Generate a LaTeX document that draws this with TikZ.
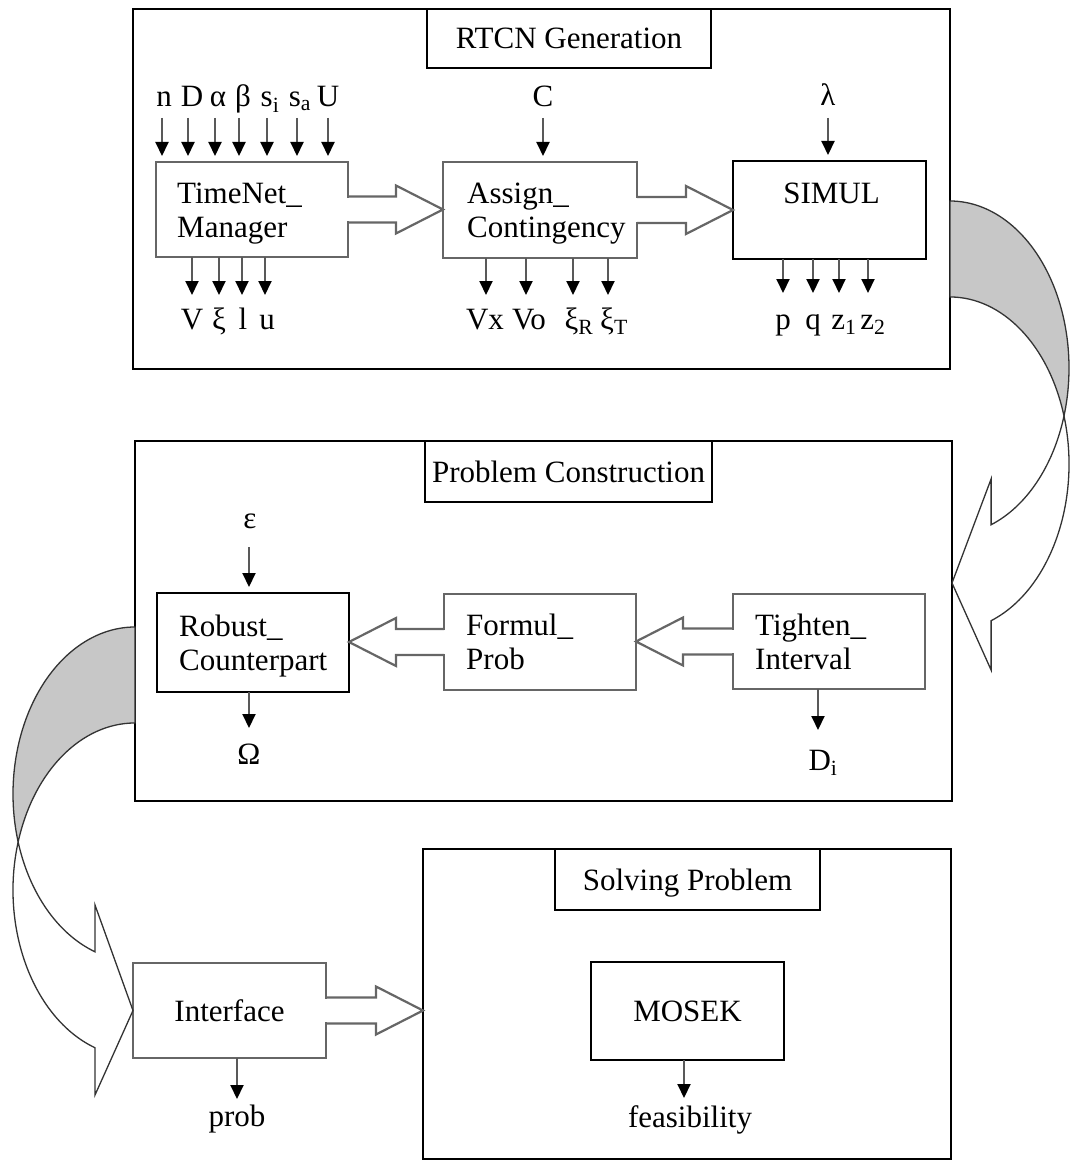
\documentclass[tikz,border=0pt]{standalone}
\usepackage{fontspec}
\setmainfont{Liberation Serif}
\usetikzlibrary{arrows.meta,calc}
\newcommand\fatR[2]{%
  \fill[white] ($(#1.east)+(-1.8,-11.9)$) rectangle ($(#1.east)+(1.8,11.9)$);
  \draw[fatline] ($(#1.east)+(0,-13)$) -- ($(#2.west |- #1.east)+(-47,-13)$)
     -- ($(#2.west |- #1.east)+(-47,-24)$) -- (#2.west |- #1.east)
     -- ($(#2.west |- #1.east)+(-47,24)$) -- ($(#2.west |- #1.east)+(-47,13)$)
     -- ($(#1.east)+(0,13)$);}
\newcommand\fatL[2]{%
  \fill[white] ($(#1.west)+(-1.8,-11.9)$) rectangle ($(#1.west)+(1.8,11.9)$);
  \draw[fatline] ($(#1.west)+(0,-13)$) -- ($(#2.east |- #1.west)+(47,-13)$)
     -- ($(#2.east |- #1.west)+(47,-24)$) -- (#2.east |- #1.west)
     -- ($(#2.east |- #1.west)+(47,24)$) -- ($(#2.east |- #1.west)+(47,13)$)
     -- ($(#1.west)+(0,13)$);}
% input arrow: label, box, dx, start offset below baseline
\newcommand\inarr[4]{\draw[sarr] ($(#1.base)+(#3,#4)$) -- ($(#1.base |- #2.north)+(#3,-6)$);}
% output arrow: label, box, dx, length
\newcommand\outarr[4]{\draw[sarr] ($(#1.base |- #2.south)+(#3,0)$) -- ++(0,#4);}
\begin{document}
\begin{tikzpicture}[x=1pt,y=-1pt,
  every node/.append style={font=\fontsize{31}{34}\selectfont},
  obox/.style={draw=black, line width=1.4pt, inner sep=0pt, outer sep=0pt},
  tbox/.style={draw=black, line width=1.4pt, fill=white, inner sep=0pt, outer sep=0pt, text height=21pt, text depth=0pt},
  kbox/.style={draw=black, line width=1.4pt, inner sep=0pt, outer sep=0pt},
  gbox/.style={draw=black!60, line width=2.2pt, inner sep=0pt, outer sep=0pt},
  fatline/.style={draw=black!60, line width=2.2pt, line join=miter},
  sarr/.style={draw=black!65, line width=2pt, -{Triangle[width=13pt,length=14pt,color=black]}},
  lbl/.style={inner sep=0pt},
  cband/.style={draw=black!80, line width=1.3pt, fill=black!22},
  fband/.style={draw=black!80, line width=1.3pt, fill=white}]
\useasboundingbox (0,0) rectangle (1070,1161);

% outer frames
\node[obox, anchor=north west, minimum width=817pt, minimum height=360pt] (b1) at (133,9) {};
\node[obox, anchor=north west, minimum width=817pt, minimum height=360pt] (b2) at (135,441) {};
\node[obox, anchor=north west, minimum width=528pt, minimum height=310pt] (b3) at (423,849) {};
\node[tbox, anchor=north west, minimum width=284pt, minimum height=59pt] (t1) at (427,9) {RTCN Generation};
\node[tbox, anchor=north west, minimum width=287pt, minimum height=61pt] (t2) at (425,441) {Problem Construction};
\node[tbox, anchor=north west, minimum width=265pt, minimum height=61pt] (t3) at (555,849) {Solving Problem};

% inner boxes
\node[gbox, anchor=north west, minimum width=192pt, minimum height=95pt] (tnm) at (156,162) {};
\node[gbox, anchor=north west, minimum width=194pt, minimum height=96pt] (asg) at (443,162) {};
\node[kbox, anchor=north west, minimum width=193pt, minimum height=98pt] (sim) at (733,161) {};
\node[kbox, anchor=north west, minimum width=192pt, minimum height=99pt] (rob) at (157,593) {};
\node[gbox, anchor=north west, minimum width=192pt, minimum height=96pt] (frm) at (444,594) {};
\node[gbox, anchor=north west, minimum width=192pt, minimum height=95pt] (tig) at (733,594) {};
\node[gbox, anchor=north west, minimum width=193pt, minimum height=95pt] (intf) at (133,963) {Interface};
\node[kbox, anchor=north west, minimum width=193pt, minimum height=98pt] (mos) at (591,962) {MOSEK};

% box texts
\node[lbl, anchor=west, align=left] (tnmT) at ($(tnm.west)+(21,4)$) {TimeNet\_\strut\\Manager\strut};
\node[lbl, anchor=west, align=left] (asgT) at ($(asg.west)+(24,4)$) {Assign\_\strut\\Contingency\strut};
\node[lbl] (simT) at ($(sim.center)+(2,-17)$) {SIMUL};
\node[lbl, anchor=west, align=left] (robT) at ($(rob.west)+(22,4)$) {Robust\_\strut\\Counterpart\strut};
\node[lbl, anchor=west, align=left] (frmT) at ($(frm.west)+(22,4)$) {Formul\_\strut\\Prob\strut};
\node[lbl, anchor=west, align=left] (tigT) at ($(tig.west)+(22,4)$) {Tighten\_\strut\\Interval\strut};

% fat block arrows
\fatR{tnm}{asg}
\fatR{asg}{sim}
\fatL{tig}{frm}
\fatL{frm}{rob}
\fatR{intf}{b3}

% inputs
\node[lbl, anchor=base] (in1) at (164,107) {n};
\node[lbl, anchor=base] (in2) at (192,107) {D};
\node[lbl, anchor=base] (in3) at (218,107) {α};
\node[lbl, anchor=base] (in4) at (243,107) {β};
\node[lbl, anchor=base] (in5) at (270,107) {s\textsubscript{i}};
\node[lbl, anchor=base] (in6) at (300,107) {s\textsubscript{a}};
\node[lbl, anchor=base] (in7) at (328,107) {U};
\inarr{in1}{tnm}{-2}{11}
\inarr{in2}{tnm}{-4}{11}
\inarr{in3}{tnm}{-3}{11}
\inarr{in4}{tnm}{-4}{11}
\inarr{in5}{tnm}{-3}{11}
\inarr{in6}{tnm}{-3}{11}
\inarr{in7}{tnm}{0}{11}
\node[lbl, anchor=base] (inC) at (543,107) {C};
\inarr{inC}{asg}{0}{11}
\node[lbl, anchor=base] (inL) at (828,106) {λ};
\inarr{inL}{sim}{0}{12}
\node[lbl, anchor=base] (inE) at (250,528) {ε};
\inarr{inE}{rob}{-1}{19}

% outputs
\node[lbl, anchor=base] (oV) at (192,329) {V};
\node[lbl, anchor=base] (oXi) at (219,329) {ξ};
\node[lbl, anchor=base] (oLo) at (243,329) {l};
\node[lbl, anchor=base] (oUp) at (267,329) {u};
\outarr{oV}{tnm}{0}{38}
\outarr{oXi}{tnm}{0}{38}
\outarr{oLo}{tnm}{-1}{38}
\outarr{oUp}{tnm}{-2}{38}
\node[lbl, anchor=base] (oVx) at (485,329) {Vx};
\node[lbl, anchor=base] (oVo) at (529,329) {Vo};
\node[lbl, anchor=base] (oXR) at (579,329) {ξ\textsubscript{R}};
\node[lbl, anchor=base] (oXT) at (614,329) {ξ\textsubscript{T}};
\outarr{oVx}{asg}{1}{37}
\outarr{oVo}{asg}{-3}{37}
\outarr{oXR}{asg}{-6}{37}
\outarr{oXT}{asg}{-6}{37}
\node[lbl, anchor=base] (op) at (783,329) {p};
\node[lbl, anchor=base] (oq) at (813,329) {q};
\node[lbl, anchor=base] (oz1) at (844,329) {z\textsubscript{1}};
\node[lbl, anchor=base] (oz2) at (873,329) {z\textsubscript{2}};
\outarr{op}{sim}{0}{34}
\outarr{oq}{sim}{0}{34}
\outarr{oz1}{sim}{-5}{34}
\outarr{oz2}{sim}{-5}{34}
\node[lbl, anchor=base] (oOm) at (249,764) {Ω};
\outarr{oOm}{rob}{0}{36}
\node[lbl, anchor=base] (oD) at (823,770) {D\textsubscript{i}};
\outarr{oD}{tig}{-5}{41}
\node[lbl, anchor=base] (oprob) at (237,1126) {prob};
\outarr{oprob}{intf}{0}{41}
\node[lbl, anchor=base] (ofeas) at (690,1127) {feasibility};
\outarr{ofeas}{mos}{-6}{38}

% curved arrow: RTCN -> Problem Construction
\filldraw[cband] ($(b1.north east)+(0,192)$)
  arc[start angle=90, end angle=-16.7, x radius=119pt, y radius=167pt]
  arc[start angle=16.7, end angle=90, x radius=119pt, y radius=167pt] -- cycle;
\filldraw[fband] (1063.98,415.99)
  arc[start angle=16.7, end angle=-69.8, x radius=119pt, y radius=167pt]
  -- (991.09,670) -- (b2.east |- 0,583) -- (991.09,479) -- (991.09,524.73)
  arc[start angle=-69.8, end angle=-16.7, x radius=119pt, y radius=167pt] -- cycle;

% curved arrow: Problem Construction -> Interface
\filldraw[cband] ($(b2.north west)+(0,186)$)
  arc[start angle=90, end angle=196.7, x radius=122pt, y radius=167pt]
  arc[start angle=163.3, end angle=90, x radius=122pt, y radius=167pt] -- cycle;
\filldraw[fband] (18.15,841.99)
  arc[start angle=163.3, end angle=250.86, x radius=122pt, y radius=167pt]
  -- (95.0,1095) -- (intf.west) -- (95.0,905) -- (95.0,951.77)
  arc[start angle=250.86, end angle=196.7, x radius=122pt, y radius=167pt] -- cycle;
\end{tikzpicture}
\end{document}
